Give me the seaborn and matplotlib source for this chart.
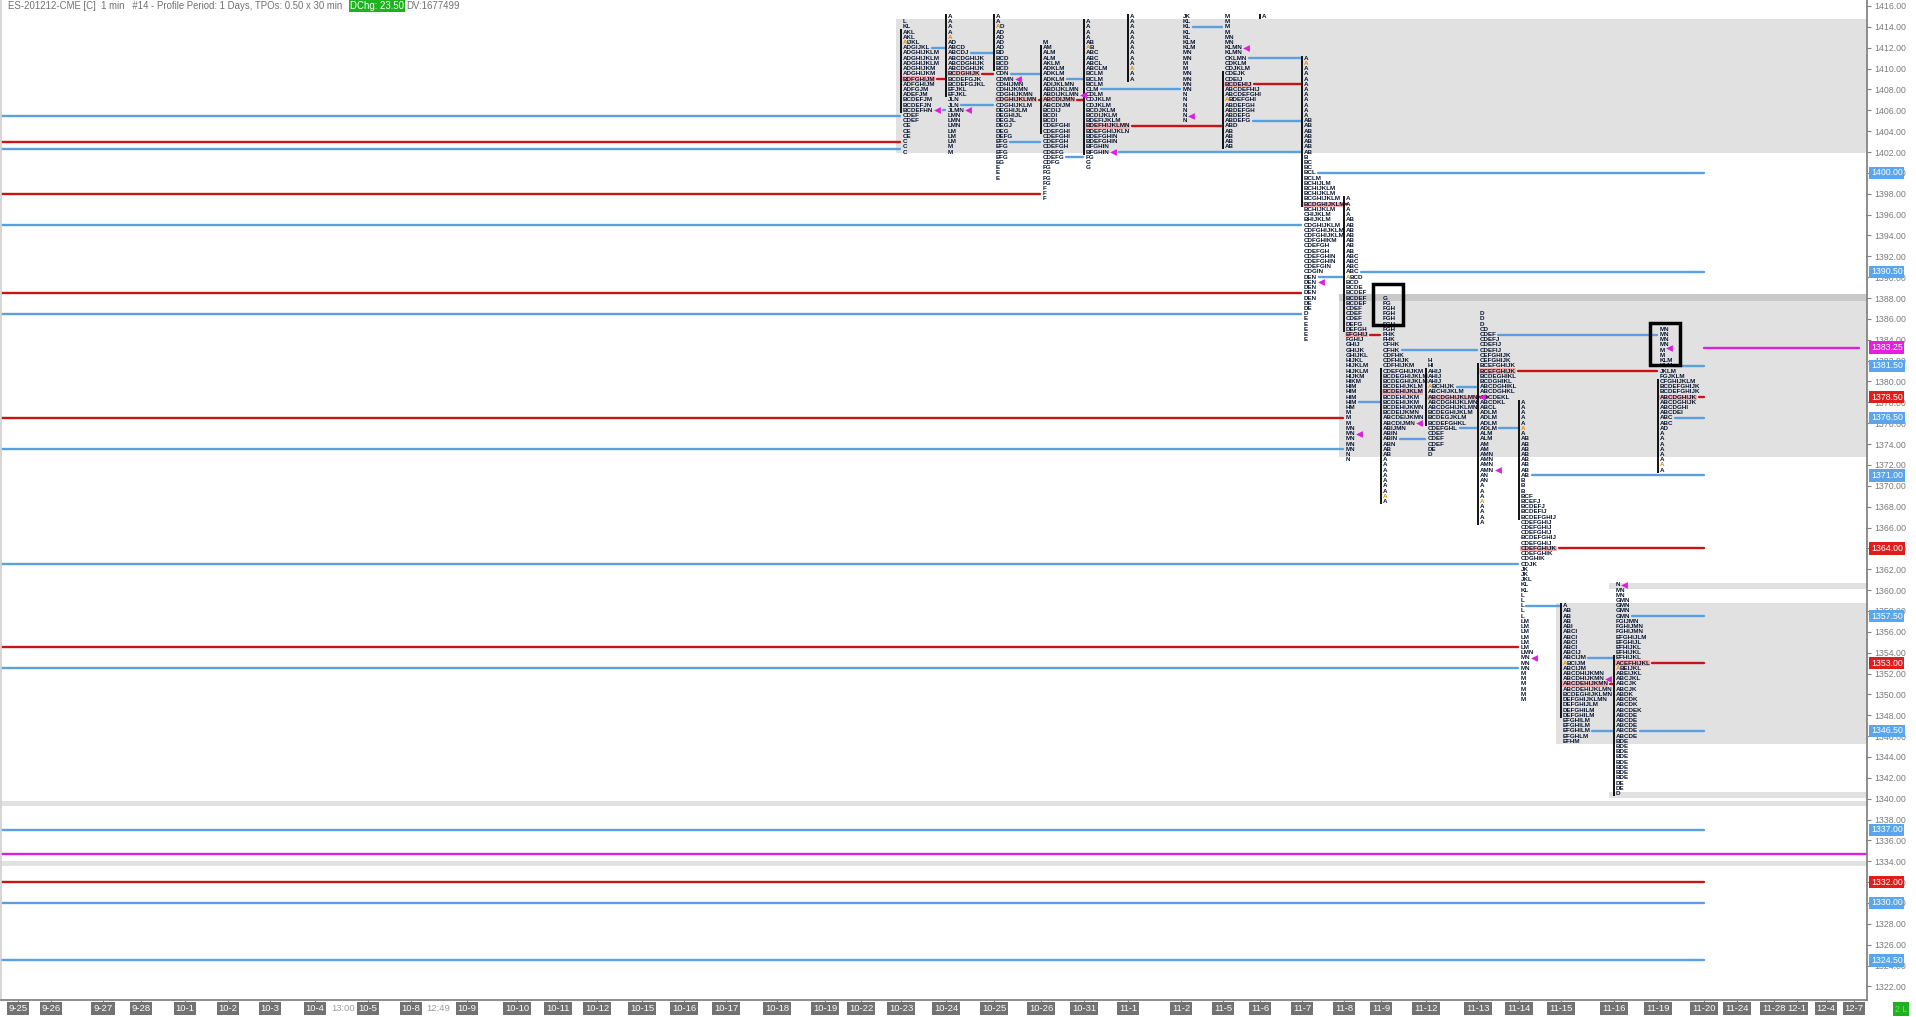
import numpy as np
import pandas as pd
import matplotlib
matplotlib.use('Agg')
import matplotlib.pyplot as plt
import matplotlib.transforms as mtransforms
from matplotlib.patches import Rectangle
import seaborn as sns

sns.set_theme(style='white')
plt.rcParams['font.family'] = ['Liberation Sans', 'DejaVu Sans']

# ---------------------------------------------------------
# 1. x axis: session dates (slot position on the time axis)
# ---------------------------------------------------------
date_labels = ['9-25', '9-26', '9-27', '9-28', '10-1', '10-2', '10-3', '10-4', '10-5',
               '10-8', '10-9', '10-10', '10-11', '10-12', '10-15', '10-16', '10-17',
               '10-18', '10-19', '10-22', '10-23', '10-24', '10-25', '10-26', '10-31',
               '11-1', '11-2', '11-5', '11-6', '11-7', '11-8', '11-9', '11-12', '11-13',
               '11-14', '11-15', '11-16', '11-19', '11-20', '11-24', '11-28', '12-1',
               '12-4', '12-7']
date_x = [17, 50, 102, 140, 184, 227, 269, 314, 367, 410, 466, 516, 557, 596, 641, 683,
          725, 776, 824, 860, 900, 945, 993, 1040, 1083, 1127, 1180, 1222, 1259, 1301,
          1343, 1380, 1425, 1477, 1518, 1560, 1613, 1657, 1703, 1736, 1773, 1796, 1825,
          1853]
short_day_labels = ['13:00', '12:49']
short_day_x = [342, 437]
last_day = '11-20'

# ---------------------------------------------------------
# 2. levels carried in from older sessions (left edge)
# ---------------------------------------------------------
old_prices = [1405.5, 1403.0, 1402.25, 1398.0, 1395.0, 1388.5, 1386.5, 1376.5, 1373.5,
              1362.5, 1354.5, 1352.5, 1337.0, 1332.0, 1330.0, 1324.5]
old_kinds = ['va', 'poc', 'va', 'poc', 'va', 'poc', 'va', 'poc', 'va',
             'va', 'poc', 'va', 'va', 'poc', 'va', 'va']

# ---------------------------------------------------------
# 3. TPO profiles (rows top -> bottom, 0.50 per row)
# ---------------------------------------------------------
rows_1023 = ['L', 'KL', 'AKL', 'AKL', 'AIJKL', 'ADGIJKL', 'ADGHIJKLM', 'ADGHIJKLM',
             'ADGHIJKLM', 'ADGHIJKM', 'ADGHIJKM', 'BDFGHIJM', 'ADFGHIJM', 'ADFGJM',
             'ADEFJM', 'BCDEFJM', 'BCDEFJN', 'BCDEFHN', 'CDEF', 'CDEF', 'CE', 'CE', 'CE',
             'C', 'C', 'C']
rows_1024 = ['A', 'A', 'A', 'A', 'A', 'AD', 'ABCD', 'ABCDJ', 'ABCDGHIJK', 'ABCDGHIJK',
             'ABCDGHIJK', 'BCDGHIJK', 'BCDEFGJK', 'BCDEFGJKL', 'EFJKL', 'EFJKL', 'JLN',
             'JLN', 'JLMN', 'LMN', 'LMN', 'LMN', 'LM', 'LM', 'LM', 'M', 'M']
rows_1025 = ['A', 'A', 'AD', 'AD', 'AD', 'AD', 'AD', 'BD', 'BCD', 'BCD', 'BCD', 'CDN',
             'CDMN', 'CDHIJMN', 'CDHIJKMN', 'CDGHIJKMN', 'CDGHIJKLMN', 'CDGHIJKLM',
             'DEGHIJLM', 'DEGHIJL', 'DEGJL', 'DEGJ', 'DEG', 'DEFG', 'EFG', 'EFG', 'EFG',
             'EFG', 'EG', 'E', 'E', 'E']
rows_1026 = ['M', 'AM', 'ALM', 'ALM', 'AKLM', 'ADKLM', 'ADKLM', 'ADKLM', 'ADIJKLMN',
             'ABDIJKLMN', 'ABDIJKLMN', 'ABCDIJMN', 'ABCDIJM', 'BCDIJ', 'BCDI', 'BCDI',
             'CDEFGHI', 'CDEFGHI', 'CDEFGHI', 'CDEFGH', 'CDEFGH', 'CDEFG', 'CDEFG', 'CDFG',
             'FG', 'FG', 'FG', 'FG', 'F', 'F', 'F']
rows_1031 = ['A', 'A', 'A', 'A', 'AB', 'AB', 'ABC', 'ABC', 'ABCL', 'ABCLM', 'BCLM', 'BCLM',
             'BCLM', 'CLM', 'CDLM', 'CDJKLM', 'CDJKLM', 'BCDJKLM', 'BCDIJKLM', 'BDEFIJKLM',
             'BDEFHIJKLMN', 'BDEFGHIJKLN', 'BDEFGHIN', 'BDEFGHIN', 'BFGHIN', 'BFGHIN', 'FG',
             'G', 'G']
rows_1101 = ['A'] * 13
rows_1102 = ['JK', 'KL', 'KL', 'KL', 'KL', 'KLM', 'KLM', 'MN', 'MN', 'M', 'M', 'MN', 'MN',
             'MN', 'MN', 'N', 'N', 'N', 'N', 'N', 'N']
rows_1105 = ['M', 'M', 'M', 'M', 'MN', 'MN', 'KLMN', 'KLMN', 'CKLMN', 'CDKLM', 'CDJKLM',
             'CDEJK', 'CDEIJ', 'BCDEHIJ', 'ABCDEFHIJ', 'ABCDEFGHI', 'ABDEFGHI', 'ABDEFGH',
             'ABDEFGH', 'ABDEFG', 'ABDEFG', 'ABD', 'AB', 'AB', 'AB', 'AB']
rows_1106 = ['A']
rows_1107 = ['A'] * 12 + ['AB'] * 7 + [
    'B', 'BC', 'BC', 'BCL', 'BCLM', 'BCHIJLM', 'BCHIJKLM', 'BCHIJKLM', 'BCGHIJKLM',
    'BCDGHIJKLM', 'BCHIJKLM', 'CHIJKLM', 'BHIJKLM', 'CDGHIJKLM', 'CDFGHIJKLM',
    'CDFGHIJKLM', 'CDFGHIKM', 'CDEFGH', 'CDEFGH', 'CDEFGHIN', 'CDEFGHIN', 'CDEFGIN',
    'CDGIN', 'DEN', 'DEN', 'DEN', 'DEN', 'DEN', 'DE', 'DE', 'D', 'E', 'E', 'E', 'E', 'E']
rows_1108 = ['A', 'A', 'A', 'A', 'AB', 'AB', 'AB', 'AB', 'AB', 'AB', 'AB', 'ABC', 'ABC',
             'ABC', 'ABC', 'ABCD', 'BCD', 'BCDE', 'BCDEF', 'BCDEF', 'BCDEF', 'CDEF', 'CDEF',
             'CDEF', 'DEFG', 'DEFGH', 'EFGHIJ', 'FGHIJ', 'GHIJ', 'GHIJK', 'GHIJKL', 'HIJKL',
             'HIJKLM', 'HIJKLM', 'HIJKM', 'HIKM', 'HIM', 'HIM', 'HIM', 'HIM', 'HM', 'M',
             'M', 'M', 'MN', 'MN', 'MN', 'MN', 'MN', 'N', 'N']
rows_1109 = ['G', 'FG', 'FGH', 'FGH', 'FGH', 'FGH', 'FGH', 'FHK', 'FHK', 'CFHK', 'CFHK',
             'CDFHK', 'CDFHIJK', 'CDFHIJKM', 'CDEFGHIJKM', 'BCDEGHIJKLM', 'BCDEGHIJKLM',
             'BCDEHIJKLM', 'BCDEHIJKLM', 'BCDEHIJKM', 'BCDEHIJKM', 'BCDEHIJKMN',
             'BCDEIJKMN', 'ABCDEIJKMN', 'ABCDIJMN', 'ABIJMN', 'ABIN', 'ABIN', 'ABN', 'AB',
             'AB', 'A', 'A', 'A', 'A', 'A', 'A', 'A', 'A', 'A']
rows_1112 = ['H', 'HI', 'AHIJ', 'AHIJ', 'AHIJ', 'ABCHIJK', 'ABCHIJKLM', 'ABCDGHIJKLMN',
             'ABCDGHIJKLMN', 'ABCDGHIJKLMN', 'BCDEGHIJKLM', 'BCDEGJKLM', 'BCDEFGHKL',
             'CDEFGHL', 'CDEF', 'CDEF', 'CDEF', 'DE', 'D']
rows_1113 = ['D', 'D', 'D', 'CD', 'CDEF', 'CDEFJ', 'CDEFIJ', 'CDEFIJ', 'CEFGHIJK',
             'CEFGHIJK', 'BCEFGHIJK', 'BCEFGHIJK', 'BCDEGHIKL', 'BCDGHIKL', 'ABCDGHIKL',
             'ABCDGHKL', 'ABCDEKL', 'ABCDKL', 'ABCL', 'ADLM', 'ADLM', 'ADLM', 'ADLM', 'ALM',
             'ALM', 'AM', 'AM', 'AMN', 'AMN', 'AMN', 'AMN', 'AN', 'AN', 'A', 'A', 'A', 'A',
             'A', 'A', 'A', 'A']
rows_1114 = ['A'] * 7 + ['AB'] * 8 + [
    'B', 'B', 'B', 'BCF', 'BCEFJ', 'BCDEFJ', 'BCDEFIJ', 'BCDEFGHIJ', 'CDEFGHIJ',
    'CDEFGHIJ', 'CDEFGHIJ', 'BCDEFGHIJ', 'CDEFGHIJ', 'CDEFGHIJK', 'CDEFGHIK', 'CDGHIK',
    'CDJK', 'JK', 'JK', 'JKL', 'KL', 'KL', 'L', 'L', 'L', 'L', 'L', 'LM', 'LM', 'LM', 'LM',
    'LM', 'LM', 'LMN', 'MN', 'MN', 'MN', 'M', 'M', 'M', 'M', 'M', 'M']
rows_1115 = ['A', 'AB', 'AB', 'AB', 'ABI', 'ABCI', 'ABCI', 'ABCI', 'ABCI', 'ABCIJ',
             'ABCIJM', 'ABCIJM', 'ABCIJM', 'ABCDHIJKMN', 'ABCDHIJKMN', 'ABCDEHIJKMN',
             'ABCDEHIJKLMN', 'BCDEGHIJKLMN', 'DEFGHIJKLMN', 'DEFGHIJLM', 'DEFGHILM',
             'DEFGHILM', 'EFGHILM', 'EFGHILM', 'EFGHILM', 'EFGHLM', 'EFHM']
rows_1116 = ['N', 'MN', 'MN', 'GMN', 'GMN', 'GMN', 'GMN', 'FGIJMN', 'FGHIJMN', 'FGHIJMN',
             'EFGHIJLM', 'EFGHIJL', 'EFHIJKL', 'EFHIJKL', 'EFHIJKL', 'ACEFHIJKL', 'ABEIJKL',
             'ABEIJKL', 'ABCJKL', 'ABCJK', 'ABCJK', 'ABDK', 'ABCDK', 'ABCDK', 'ABCDEK',
             'ABCDE', 'ABCDE', 'ABCDE', 'ABCDE', 'ABCDE', 'BDE', 'BDE', 'BDE', 'BDE', 'BDE',
             'BDE', 'BDE', 'BDE', 'DE', 'DE', 'D']
rows_1119 = ['MN', 'MN', 'MN', 'MN', 'M', 'M', 'KLM', 'KLM', 'JKLM', 'FGJKLM', 'CFGHIJKLM',
             'BCDEFGHIJK', 'BCDEFGHIJK', 'ABCDGHIJK', 'ABCDGHIJK', 'ABCDGHI', 'ABCDEI',
             'ABC', 'ABC', 'AD', 'A', 'A', 'A', 'A', 'A', 'A', 'A', 'A']

prof_dates = ['10-23', '10-24', '10-25', '10-26', '10-31', '11-1', '11-2', '11-5', '11-6',
              '11-7', '11-8', '11-9', '11-12', '11-13', '11-14', '11-15', '11-16', '11-19']
prof_rows = [rows_1023, rows_1024, rows_1025, rows_1026, rows_1031, rows_1101, rows_1102,
             rows_1105, rows_1106, rows_1107, rows_1108, rows_1109, rows_1112, rows_1113,
             rows_1114, rows_1115, rows_1116, rows_1119]
prof_top = [1414.5, 1415.0, 1415.0, 1412.5, 1414.5, 1415.0, 1415.0, 1415.0, 1415.0,
            1411.0, 1397.5, 1388.0, 1382.0, 1386.5, 1378.0, 1358.5, 1360.5, 1385.0]
prof_ib_hi = [1413.5, 1415.0, 1415.0, 1412.0, 1414.5, 1415.0, None, 1409.5, 1415.0,
              1411.0, 1397.5, 1381.0, 1381.0, 1381.5, 1378.0, 1358.5, 1353.5, 1380.0]
prof_ib_lo = [1406.0, 1407.5, 1410.0, 1404.0, 1402.0, 1409.0, None, 1402.5, 1415.0,
              1397.0, 1385.0, 1368.5, 1376.0, 1366.5, 1367.0, 1348.0, 1340.5, 1371.5]
prof_open = [1412.5, 1413.0, 1414.0, None, 1412.0, 1410.0, None, 1407.0, None,
             1410.5, 1390.0, 1369.0, 1379.5, 1368.5, 1375.5, 1353.0, 1352.5, 1372.0]
prof_close = [1406.0, 1406.0, 1409.0, 1407.5, 1402.0, None, 1405.5, 1412.0, None,
              1389.5, 1375.0, 1376.0, 1378.5, 1371.5, 1353.5, 1351.5, 1360.5, 1383.25]
prof_poc = [1409.0, 1409.5, 1407.0, 1407.0, 1404.5, None, None, 1408.5, None,
            1397.0, 1384.5, 1379.0, 1378.5, 1381.0, 1364.0, 1351.0, 1353.0, 1378.5]
prof_vah = [1412.0, 1411.5, 1409.5, 1409.0, 1408.0, None, 1414.0, 1411.0, None,
            1400.0, 1390.5, 1383.0, 1379.5, 1384.5, 1371.0, 1353.5, 1357.5, 1381.5]
prof_val = [1406.0, 1406.5, 1403.0, 1401.5, 1402.0, None, None, 1405.0, None,
            1390.0, 1378.0, 1374.5, 1375.5, 1375.5, 1358.5, 1346.5, 1346.5, 1376.5]

# value-area / range bands (start date or None for full width, low, high, shade)
band_start = ['10-23', '11-8', '11-8', '11-15', '11-16', '11-16', None, None]
band_lo = [1401.9, 1372.75, 1387.75, 1345.25, 1360.1, 1340.1, 1339.3, 1333.5]
band_hi = [1414.75, 1387.75, 1388.35, 1358.75, 1360.7, 1340.65, 1339.8, 1334.0]
band_dark = [False, False, True, False, False, False, False, False]

# highlighted boxes (date, low, high)
box_dates = ['11-9', '11-19']
box_lo = [1385.4, 1381.6]
box_hi = [1389.3, 1385.6]

current_price = 1383.25
user_line = 1334.7

# ---------------------------------------------------------
# 4. figure
# ---------------------------------------------------------
W, H = 1916, 1017
fig = plt.figure(figsize=(W / 100, H / 100), dpi=100)
ax = fig.add_axes([1 / W, 17 / H, 1866 / W, 1000 / H])
XMAX = 1866
ax.set_xlim(0, XMAX)
ax.set_ylim(1320.70, 1416.575)
ax.set_facecolor('white')

xpos = dict(zip(date_labels, date_x))
blue, red, mag = '#5a9fe2', '#c81414', '#dd1fdd'
navy = '#081530'
gray_band, gray_dark = '#e1e1e1', '#c9c9c9'
tpo_font = ['Liberation Sans Narrow', 'Liberation Sans']
narrow = ['Liberation Sans Narrow', 'Liberation Sans']

# bands
for d, lo, hi, dark in zip(band_start, band_lo, band_hi, band_dark):
    x0 = 0 if d is None else xpos[d] - 5
    ax.fill_between([x0, XMAX], lo, hi, color=gray_dark if dark else gray_band,
                    lw=0, zorder=0)

renderer = fig.canvas.get_renderer()
inv = ax.transData.inverted()

def text_right(t):
    bb = t.get_window_extent(renderer)
    return inv.transform((bb.x1, 0))[0]

# letters (open row: first letter orange)
row_end = {}
fs = 4.5
for d, top, rows, op in zip(prof_dates, prof_top, prof_rows, prof_open):
    x = xpos[d]
    for i, r in enumerate(rows):
        p = top - 0.5 * i
        xs = x + 1.5
        if op is not None and abs(p - op) < 0.01:
            t0 = ax.text(xs, p, r[0], fontsize=fs, family=tpo_font, weight='bold',
                         color='#e08a00', ha='left', va='center', zorder=5)
            xs = text_right(t0)
            r = r[1:]
            if not r:
                row_end[(d, p)] = xs
                continue
        t = ax.text(xs, p, r, fontsize=fs, family=tpo_font, weight='bold', color=navy,
                    ha='left', va='center', zorder=4)
        row_end[(d, p)] = text_right(t)

def row_x_end(d, p):
    key = (d, round(p * 2) / 2)
    return row_end.get(key, xpos[d] + 4)

# POC rows tinted
for d, poc in zip(prof_dates, prof_poc):
    if poc is not None:
        x = xpos[d]
        xe = row_x_end(d, poc)
        ax.add_patch(Rectangle((x + 1, poc - 0.25), xe - x - 1, 0.5, color='#f3b0b0',
                               lw=0, zorder=3))

# IB lines
for d, lo, hi in zip(prof_dates, prof_ib_lo, prof_ib_hi):
    if lo is None:
        continue
    ax.plot([xpos[d], xpos[d]], [lo - 0.25, hi + 0.25], color='black', lw=1.3, zorder=5,
            solid_capstyle='butt')

# profile ranges for touch test
ranges = [(xpos[d], top - 0.5 * (len(r) - 1), top) for d, top, r in zip(prof_dates, prof_top, prof_rows)]

def line_end(p, after_x):
    for x, lo, hi in ranges:
        if x > after_x + 1 and lo - 0.25 <= p <= hi + 0.25:
            return x - 1, False
    return xpos[last_day], True

segs = []
labels = []
for p, k in zip(old_prices, old_kinds):
    x1, naked = line_end(p, -10)
    segs.append((0, x1, p, k))
    if naked:
        labels.append((p, k))

close_pts = []
for d, cl in zip(prof_dates, prof_close):
    if cl is not None:
        close_pts.append((row_x_end(d, cl) + 4, cl))
close_rows = {(d, round(c * 2) / 2) for d, c in zip(prof_dates, prof_close) if c is not None}

for d, poc, vah, val in zip(prof_dates, prof_poc, prof_vah, prof_val):
    for p, k in ((poc, 'poc'), (vah, 'va'), (val, 'va')):
        if p is None:
            continue
        x0 = row_x_end(d, p) + 2
        if (d, round(p * 2) / 2) in close_rows:
            x0 += 8
        x1, naked = line_end(p, xpos[d])
        segs.append((x0, x1, p, k))
        if naked:
            labels.append((p, k))

segs.append((xpos[last_day], 1858, current_price, 'cur'))
segs.append((0, XMAX, user_line, 'cur'))
labels.append((current_price, 'cur'))

seg_df = pd.DataFrame([(i, x, p, k) for i, (x0, x1, p, k) in enumerate(segs) for x in (x0, x1)],
                      columns=['seg', 'x', 'price', 'kind'])
sns.lineplot(data=seg_df, x='x', y='price', units='seg', hue='kind', estimator=None, sort=False,
             palette={'poc': red, 'va': blue, 'cur': mag}, lw=1.7, legend=False, ax=ax, zorder=2)

cp = pd.DataFrame(close_pts, columns=['x', 'price'])
sns.scatterplot(data=cp, x='x', y='price', marker='<', color=mag, s=24, lw=0, ax=ax, zorder=6)

for d, lo, hi in zip(box_dates, box_lo, box_hi):
    ax.add_patch(Rectangle((xpos[d] - 8, lo), 30, hi - lo, fill=False, ec='black', lw=2.5,
                           zorder=7))

# ---------------------------------------------------------
# 5. axes styling
# ---------------------------------------------------------
ax.set_xlabel('')
ax.set_ylabel('')
ax.spines['top'].set_visible(False)
ax.spines['left'].set_color('#d0d0d0')
ax.spines['bottom'].set_color('#808080')
ax.spines['right'].set_color('#808080')
ax.yaxis.tick_right()
yt = np.arange(1322, 1417, 2)
ax.set_yticks(yt)
ax.set_yticklabels([f'{v:.2f}' for v in yt], fontsize=6.3, color='#7a7a7a')
ax.tick_params(axis='y', which='both', right=True, length=3, width=0.8, color='#808080', pad=2)
ax.set_xticks(date_x)
ax.set_xticklabels([])
ax.tick_params(axis='x', bottom=True, length=4, width=0.8, color='#808080')

xtr = mtransforms.blended_transform_factory(ax.transData, ax.transAxes)
for lab, x in zip(date_labels, date_x):
    ax.text(x, -0.004, lab, transform=xtr, ha='center', va='top', fontsize=6.8, color='white',
            family=narrow, bbox=dict(boxstyle='square,pad=0.2', fc='#727272', ec='none'),
            clip_on=False)
for lab, x in zip(short_day_labels, short_day_x):
    ax.text(x, -0.004, lab, transform=xtr, ha='center', va='top', fontsize=6.8,
            family=narrow, color='#9a9a9a', clip_on=False)

ytr = mtransforms.blended_transform_factory(ax.transAxes, ax.transData)
lab_col = {'poc': '#e01c1c', 'va': '#5aa6ee', 'cur': '#e41fe4'}
for p, k in labels:
    ax.text(1.0 + 4 / 1866, p, f'{p:.2f}', transform=ytr, ha='left', va='center', fontsize=6.3,
            color='white', clip_on=False, zorder=8,
            bbox=dict(boxstyle='square,pad=0.2', fc=lab_col[k], ec='none'))

# header
fig.text(8 / W, 1 - 6 / H, 'ES-201212-CME [C]  1 min   #14 - Profile Period: 1 Days, TPOs: 0.50 x 30 min',
         fontsize=6.9, color='#707070', ha='left', va='center')
fig.text(350 / W, 1 - 6 / H, 'DChg: 23.50', fontsize=6.9, color='white', ha='left', va='center',
         bbox=dict(boxstyle='square,pad=0.15', fc='#1db31d', ec='none'))
fig.text(406 / W, 1 - 6 / H, 'DV:1677499', fontsize=6.9, color='#707070', ha='left', va='center')
fig.text(1901 / W, 8 / H, '2 L', fontsize=6.3, color='#6fe06f', ha='center', va='center',
         bbox=dict(boxstyle='square,pad=0.25', fc='#1db31d', ec='none'))

fig.savefig('out.png', dpi=100)
